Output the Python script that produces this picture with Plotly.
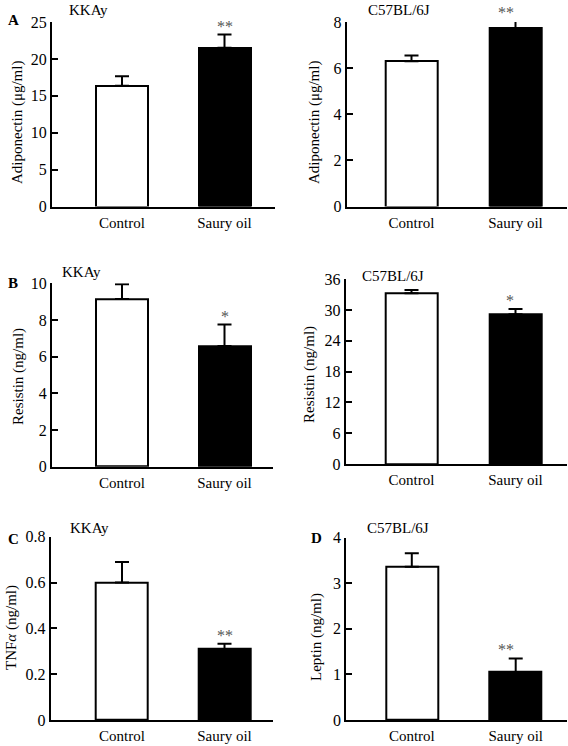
import plotly.graph_objects as go

# ---------------- data ----------------
categories = ["Control", "Saury oil"]

adiponectin_kkay = [16.35, 21.5]
adiponectin_kkay_err = [1.3, 1.8]
adiponectin_c57 = [6.3, 7.72]
adiponectin_c57_err = [0.25, 0.33]

resistin_kkay = [9.15, 6.58]
resistin_kkay_err = [0.8, 1.17]
resistin_c57 = [33.3, 29.2]
resistin_c57_err = [0.6, 1.0]

tnfa_kkay = [0.6, 0.31]
tnfa_kkay_err = [0.09, 0.023]
leptin_c57 = [3.36, 1.05]
leptin_c57_err = [0.3, 0.3]

stars_a = ["", "**"]
stars_a2 = ["", "**"]
stars_b = ["", "*"]
stars_b2 = ["", "*"]
stars_c = ["", "**"]
stars_d = ["", "**"]

y_titles = ["Adiponectin (μg/ml)", "Adiponectin (μg/ml)", "Resistin (ng/ml)",
            "Resistin (ng/ml)", "TNF<i>α</i> (ng/ml)", "Leptin (ng/ml)"]
strains = ["KKAy", "C57BL/6J", "KKAy", "C57BL/6J", "KKAy", "C57BL/6J"]
panel_letters = ["A", "", "B", "", "C", "D"]
y_max = [25, 8, 10, 36, 0.8, 4]
y_dtick = [5, 2, 2, 6, 0.2, 1]

# ---------------- layout geometry (pixels) ----------------
W, H = 568, 746
FONT = "Liberation Serif, Times New Roman, serif"

def px_x(x):
    return x / W

def px_y(y):
    return 1 - y / H

# (axis left, axis right, y of zero, y of top, centre cat0, centre cat1)
geom = [
    (52, 275, 206.5, 22, 122, 224.5),
    (346.7, 567, 206.5, 22, 411.5, 515.5),
    (52, 273, 466.7, 283.3, 122, 224.5),
    (345.7, 567, 464, 279.3, 411.5, 515.5),
    (50.7, 273, 720, 536.7, 122, 224.5),
    (346.3, 567, 720, 537.7, 411.8, 515.7),
]
# y-title centre (x, y), strain label (left x, centre y), letter (centre x, centre y)
ytitle_pos = [(17, 123), (314, 123), (18, 377), (309, 375), (11, 628), (316, 637)]
strain_pos = [(67, 10), (366, 10), (60, 272), (360, 276), (68, 528), (365, 528)]
letter_pos = [(13, 20), None, (13, 283), None, (13, 539), (316, 538)]

values = [adiponectin_kkay, adiponectin_c57, resistin_kkay, resistin_c57, tnfa_kkay, leptin_c57]
errors = [adiponectin_kkay_err, adiponectin_c57_err, resistin_kkay_err, resistin_c57_err,
          tnfa_kkay_err, leptin_c57_err]
stars = [stars_a, stars_a2, stars_b, stars_b2, stars_c, stars_d]

fig = go.Figure()
annotations = []
BAR_PX = 52

for i in range(6):
    xl, xr, y0, yt, c0, c1 = geom[i]
    unit = c1 - c0
    xr0 = (xl - c0) / unit
    xr1 = (xr - c0) / unit
    ax = "" if i == 0 else str(i + 1)
    xa = "x" + ax
    ya = "y" + ax
    fig.add_trace(go.Bar(
        x=[0, 1], y=values[i],
        width=BAR_PX / unit,
        marker=dict(color=["white", "black"], line=dict(color="black", width=2)),
        error_y=dict(type="data", symmetric=False, array=errors[i],
                     arrayminus=[0, 0], color="black", thickness=2, width=7),
        xaxis=xa, yaxis=ya, showlegend=False, hoverinfo="skip",
    ))
    fig.layout["xaxis" + ax] = dict(
        domain=[px_x(xl), px_x(xr)], range=[xr0, xr1], anchor=ya,
        tickmode="array", tickvals=[0, 1], ticktext=categories,
        ticks="", showline=True, linecolor="black", linewidth=2,
        showgrid=False, zeroline=False, automargin=False,
        tickfont=dict(family=FONT, size=15, color="black"), ticklabelstandoff=1,
    )
    fig.layout["yaxis" + ax] = dict(
        domain=[px_y(y0), px_y(yt)], range=[0, y_max[i]], anchor=xa,
        dtick=y_dtick[i], tick0=0, ticks="inside", ticklen=6, tickwidth=2,
        tickcolor="black", showline=True, linecolor="black", linewidth=2,
        showgrid=False, zeroline=False, automargin=False,
        tickfont=dict(family=FONT, size=16, color="black"),
    )
    # significance stars (placed in paper space so they may sit above the axis top)
    for k in range(2):
        if stars[i][k]:
            top = values[i][k] + errors[i][k]
            cx = c0 + k * unit
            cy = y0 - top / y_max[i] * (y0 - yt)
            annotations.append(dict(
                x=px_x(cx), y=px_y(cy), xref="paper", yref="paper",
                text=stars[i][k], showarrow=False, yanchor="bottom",
                yshift=-2, font=dict(family=FONT, size=16, color="#555555"),
            ))
    # y title
    tx, ty = ytitle_pos[i]
    annotations.append(dict(
        x=px_x(tx), y=px_y(ty), xref="paper", yref="paper", text=y_titles[i],
        textangle=-90, showarrow=False, xanchor="center", yanchor="middle",
        font=dict(family=FONT, size=15, color="black"),
    ))
    sx, sy = strain_pos[i]
    annotations.append(dict(
        x=px_x(sx), y=px_y(sy), xref="paper", yref="paper", text=strains[i],
        showarrow=False, xanchor="left", yanchor="middle",
        font=dict(family=FONT, size=15, color="black"),
    ))
    if letter_pos[i]:
        lx, ly = letter_pos[i]
        annotations.append(dict(
            x=px_x(lx), y=px_y(ly), xref="paper", yref="paper",
            text="<b>" + panel_letters[i] + "</b>",
            showarrow=False, xanchor="center", yanchor="middle",
            font=dict(family=FONT, size=15, color="black"),
        ))

fig.update_layout(
    width=W, height=H, margin=dict(l=0, r=0, t=0, b=0, autoexpand=False),
    plot_bgcolor="white", paper_bgcolor="white",
    annotations=annotations, bargap=0,
)

fig.write_html(
    "out.html",
    config={"displayModeBar": False},
    post_script="document.body.style.margin='0';document.body.style.overflow='hidden';",
)
